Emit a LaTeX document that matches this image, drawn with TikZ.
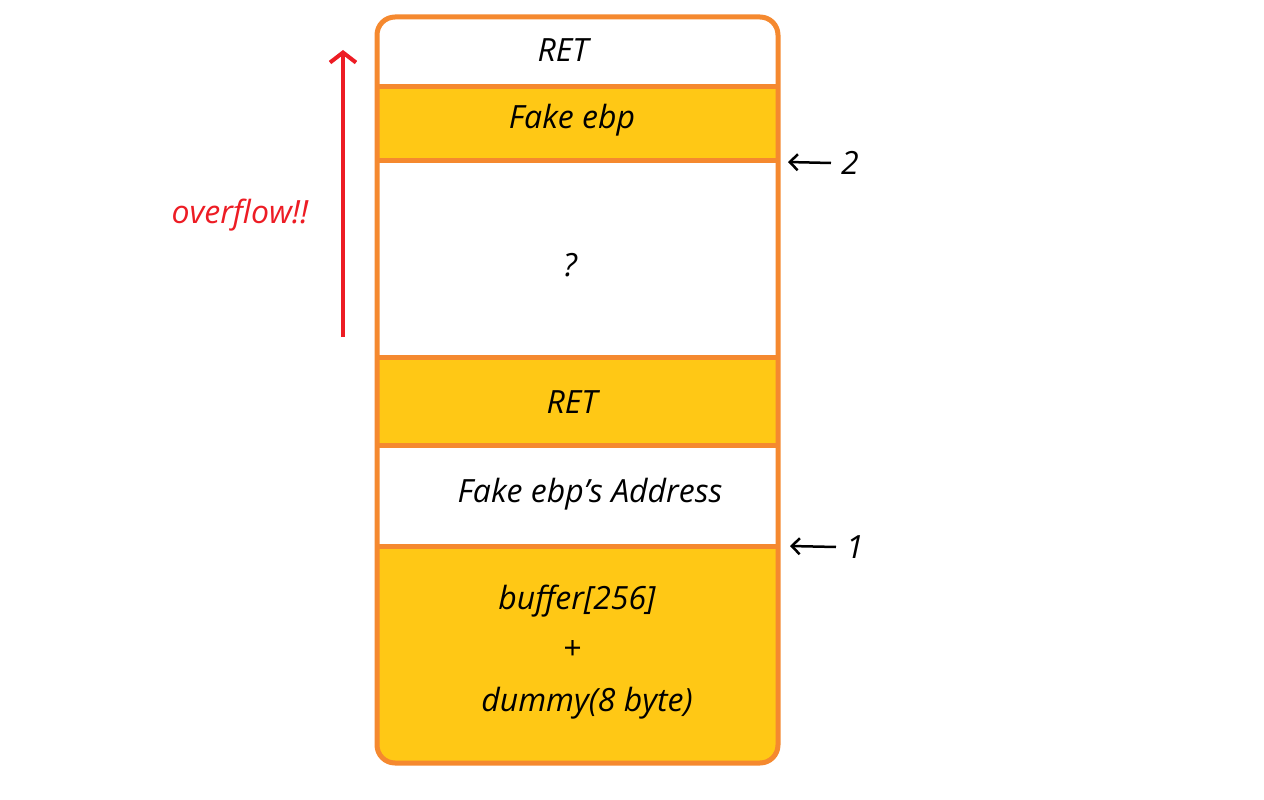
\documentclass[tikz,border=0pt]{standalone}
\usepackage{fontspec}
\setmainfont{Open Sans}
\usetikzlibrary{arrows.meta}
\definecolor{stackorange}{HTML}{F5892F}
\definecolor{stackyellow}{HTML}{FFC815}
\definecolor{overred}{HTML}{ED1C24}
\begin{document}
\begin{tikzpicture}[x=1pt, y=-1pt,
  cell/.style={font=\fontsize{32}{38}\selectfont\itshape, inner sep=0pt},
  pointer/.style={draw=black, line width=2.5pt, -{Straight Barb[length=8pt, width=16pt]}}]
\def \xl {377}
\def \xr {778}

\def \ya {17};
\def \yb {87};
\def \yc {160};
\def \yd {357};
\def \ye {445};
\def \yf {546};
\def \yg {763};

\useasboundingbox (0,0) rectangle (1264,800);
% fill rows
\begin{scope}
\clip [rounded corners=18pt] (\xl, \ya) rectangle (\xr, \yg);
\fill [white] (\xl, \ya) rectangle (\xr, \yb);
\fill [stackyellow] (\xl, \yb) rectangle (\xr, \yc);
\fill [white] (\xl, \yc) rectangle (\xr, \yd);
\fill [stackyellow] (\xl, \yd) rectangle (\xr, \ye);
\fill [white] (\xl, \ye) rectangle (\xr, \yf);
\fill [stackyellow] (\xl, \yf) rectangle (\xr, \yg);
\end{scope}
% dividers
\foreach \y in {\yb, \yc, \yd, \ye, \yf}
  \draw [stackorange, line width=5pt] (\xl, \y) -- (\xr, \y);
\draw [stackorange, line width=5pt, rounded corners=18pt] (\xl, \ya) rectangle (\xr, \yg);

\node [cell] (ret) at (563, 50) {RET};
\node [cell] (fakeebp) at (572, 120) {Fake ebp};
\node [cell] (unknown) at (570, 265) {?};
\node [cell] (ret2) at (572, 402) {RET};
\node [cell] (addr) at (590, 494) {Fake ebp's Address};
\node [cell] (buffer) at (577, 601) {buffer[256]};
\node [cell] (plus) at (572, 650) {+};
\node [cell] (dummy) at (587, 703) {dummy(8 byte)};

% overflow arrow
\coordinate (ovstart) at (343, 337);
\coordinate (ovend) at (343, 50);
\draw [overred, line width=4pt, -{Straight Barb[length=10pt, width=26pt]}] (ovstart) -- (ovend);
\node [cell, text=overred] (overflow) at (240, 215) {overflow!!};

% pointers
\node [cell] (two) at (850, 163) {2};
\coordinate (twoedge) at (788, 162);
\draw [pointer] (two.west) ++(-10pt, 0) coordinate (twotail) (twotail) -- (twoedge);
\node [cell] (one) at (855, 547) {1};
\coordinate (oneedge) at (790, 546);
\draw [pointer] (one.west) ++(-10pt, 0) coordinate (onetail) (onetail) -- (oneedge);
\end{tikzpicture}
\end{document}
